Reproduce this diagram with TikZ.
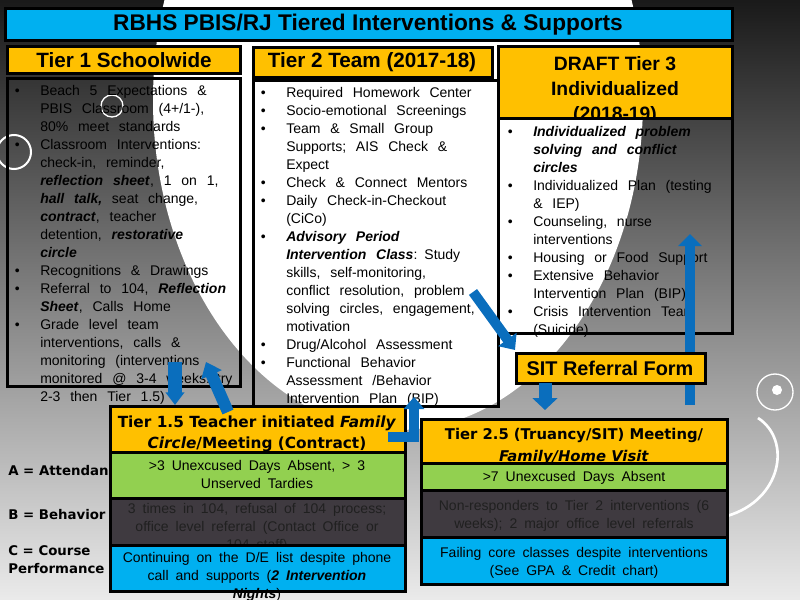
\documentclass[tikz,border=0pt]{standalone}
\usepackage{fontspec}
\setmainfont{Liberation Sans}
\newfontfamily\wideboldfont{DejaVu Sans Bold}
\usetikzlibrary{arrows.meta}

\definecolor{titlecyan}{HTML}{00B0F0}
\definecolor{tierorange}{HTML}{FFC000}
\definecolor{critgreen}{HTML}{92D050}
\definecolor{critdark}{HTML}{3F3A40}
\definecolor{critblue}{HTML}{00B0F0}
\definecolor{arrowblue}{HTML}{0A6EBD}
\definecolor{darktext}{HTML}{202020}

\newcommand{\bodyfont}{\fontsize{10.5}{13.5}\selectfont\spaceskip=0.5em plus 0.2em minus 0.05em\relax}
\newcommand{\bul}{\par\spaceskip=0.7em plus 0.1em minus 0.05em\relax\hangindent=22.5pt\hangafter=1\noindent\makebox[22.5pt][l]{\hspace{3.5pt}\textbullet}}
\newcommand{\bi}[1]{\textbf{\textit{#1}}}

\tikzset{
  box/.style={draw=black, line width=2.25pt},
  hdrtext/.style={font=\bfseries\fontsize{15.5}{18.75}\selectfont, align=center, inner sep=0pt},
  listtext/.style={anchor=north west, inner sep=0pt, text width=#1, align=left, font=\bodyfont},
  crithdr/.style={font=\wideboldfont\fontsize{11.4}{15.9}\selectfont, align=center, inner sep=0pt},
  crittext/.style={font=\bodyfont, align=center, inner sep=0pt},
  sidelabel/.style={font=\wideboldfont\fontsize{10}{13.5}\selectfont, align=left, anchor=west, inner sep=0pt},
  bluearrow/.style={draw=arrowblue, line width=#1, line join=miter},
}

\begin{document}
\begin{tikzpicture}[x=0.75pt, y=-0.75pt]
  \useasboundingbox (0,0) rectangle (800,600);
  \clip (0,0) rectangle (800,600);

  % Background swirl
  \fill[top color=black!90, middle color=black!55, bottom color=black!8] (0,0) rectangle (800,600);
  \fill[white] (398,100) ellipse [x radius=245, y radius=330];
  \draw[white, line width=1.5pt] (14,152) circle [radius=17];
  \draw[white, line width=1pt] (112,106) circle [radius=11];
  \draw[white, line width=2pt] (758,418) .. controls (792,440) and (782,500) .. (727,516);
  \draw[white, line width=1pt] (775,392) circle [radius=18];
  \fill[white] (777,390) circle [radius=5];

  % Title
  \filldraw[box, fill=titlecyan] (5,8) rectangle (732,40);
  \node[hdrtext, font=\bfseries\fontsize{17}{18}\selectfont] (title) at (368,25) {RBHS PBIS/RJ Tiered Interventions \& Supports};

  % Tier 1
  \filldraw[box, fill=tierorange] (7,46) rectangle (240,73);
  \node[hdrtext] (tier1head) at (124,60) {Tier 1 Schoolwide};
  \draw[box] (7,78) rectangle (240,386);
  \node[listtext=200pt] (tier1list) at (10,77) {%
    \bul Beach 5 Expectations \&\newline PBIS Classroom (4+/1-),\newline 80\% meet standards
    \bul Classroom Interventions:\newline check-in, reminder,\newline \bi{reflection sheet}, 1 on 1,\newline \bi{hall talk,} seat change,\newline \bi{contract}, teacher\newline detention, \bi{restorative}\newline \bi{circle}
    \bul Recognitions \& Drawings
    \bul Referral to 104, \bi{Reflection}\newline \bi{Sheet}, Calls Home
    \bul Grade level team\newline interventions, calls \&\newline monitoring (interventions\newline monitored @ 3-4 weeks: try\newline 2-3 then Tier 1.5)\par};

  % Tier 2
  \filldraw[box, fill=tierorange] (253,47) rectangle (492,77);
  \node[hdrtext] (tier2head) at (372,62) {Tier 2 Team (2017-18)};
  \draw[box] (253,80) rectangle (498,406);
  \node[listtext=200pt] (tier2list) at (256,79) {%
    \bul Required Homework Center
    \bul Socio-emotional Screenings
    \bul Team \& Small Group\newline Supports; AIS Check \&\newline Expect
    \bul Check \& Connect Mentors
    \bul Daily Check-in-Checkout\newline (CiCo)
    \bul \bi{Advisory Period}\newline \bi{Intervention Class}: Study\newline skills, self-monitoring,\newline conflict resolution, problem\newline solving circles, engagement,\newline motivation
    \bul Drug/Alcohol Assessment
    \bul Functional Behavior\newline Assessment /Behavior\newline Intervention Plan (BIP)\par};

  % Tier 3
  \filldraw[box, fill=tierorange] (498,46) rectangle (732,118);
  \begin{scope}
    \clip (498,46) rectangle (732,117);
    \node[hdrtext, font=\bfseries\fontsize{14.5}{18.75}\selectfont] (tier3head) at (615,90.5) {DRAFT Tier 3\\Individualized\\(2018-19)};
  \end{scope}
  \draw[box] (498,118) rectangle (732,333);
  \node[listtext=200pt] (tier3list) at (503,118) {%
    \bul \bi{Individualized problem}\newline \bi{solving and conflict}\newline \bi{circles}
    \bul Individualized Plan (testing\newline \& IEP)
    \bul Counseling, nurse\newline interventions
    \bul Housing or Food Support
    \bul Extensive Behavior\newline Intervention Plan (BIP)
    \bul Crisis Intervention Team\newline (Suicide)\par};

  % Criteria labels
  \node[sidelabel] (labelA) at (8,471) {A = Attendance};
  \node[sidelabel] (labelB) at (8,515) {B = Behavior};
  \node[sidelabel] (labelC) at (8,560) {C = Course\\Performance};

  % Tier 1.5
  \filldraw[box, fill=tierorange] (110,406) rectangle (405,452);
  \node[crithdr, font=\wideboldfont\fontsize{11.5}{15.75}\selectfont] (tier15head) at (257,433.5) {Tier 1.5 Teacher initiated \textit{Family}\\\textit{Circle}/Meeting (Contract)};
  \filldraw[box, fill=critgreen] (110,452) rectangle (405,498);
  \node[crittext] (tier15att) at (257,474) {>3 Unexcused Days Absent, > 3\\Unserved Tardies};
  \filldraw[box, fill=critdark] (110,498) rectangle (405,545);
  \begin{scope}
    \clip (110,498) rectangle (405,545);
    \node[crittext, text=darktext] (tier15beh) at (257,528) {3 times in 104, refusal of 104 process;\\office level referral (Contact Office or\\104 staff)};
  \end{scope}
  \filldraw[box, fill=critblue] (110,545) rectangle (405,591);
  \node[crittext] (tier15crs) at (257,577) {Continuing on the D/E list despite phone\\call and supports (\bi{2 Intervention}\\\bi{Nights})};

  % Tier 2.5
  \filldraw[box, fill=tierorange] (421,419) rectangle (727,463);
  \node[crithdr, font=\wideboldfont\fontsize{11.1}{16.5}\selectfont] (tier25head) at (574,446) {Tier 2.5 (Truancy/SIT) Meeting/\\\textit{Family/Home Visit}};
  \filldraw[box, fill=critgreen] (421,463) rectangle (727,490);
  \node[crittext] (tier25att) at (574,478) {>7 Unexcused Days Absent};
  \filldraw[box, fill=critdark] (421,490) rectangle (727,537);
  \node[crittext, text=darktext] (tier25beh) at (574,516) {Non-responders to Tier 2 interventions (6\\weeks); 2 major office level referrals};
  \filldraw[box, fill=critblue] (421,537) rectangle (727,584);
  \node[crittext] (tier25crs) at (574,563) {Failing core classes despite interventions\\(See GPA \& Credit chart)};

  % Arrow ends
  \coordinate (t1down-a) at (175,362);
  \coordinate (t1down-b) at (175,405);
  \coordinate (t15up-a) at (228,412);
  \coordinate (t15up-b) at (206,362);
  \coordinate (t15elbow-a) at (388,437);
  \coordinate (t15elbow-b) at (414,397);
  \coordinate (t2sit-a) at (473,292);
  \coordinate (t2sit-b) at (515,350);
  \coordinate (sitdown-a) at (545,383);
  \coordinate (sitdown-b) at (545,410);
  \coordinate (t3up-a) at (690,405);
  \coordinate (t3up-b) at (690,234);

  % Escalation arrows
  \draw[bluearrow=7.5pt, -{Triangle[width=0pt 2.3, length=0pt 1.2]}] (t3up-a) -- (t3up-b);

  % SIT referral
  \filldraw[box, fill=tierorange] (516,353) rectangle (705,383);
  \node[font=\bfseries\fontsize{14.9}{16}\selectfont, inner sep=0pt] (sitform) at (610,368) {SIT Referral Form};

  \draw[bluearrow=10.5pt, -{Triangle[width=0pt 1.3, length=0pt 0.9]}] (t1down-a) -- (t1down-b);
  \draw[bluearrow=9pt, -{Triangle[width=0pt 1.8, length=0pt 1.15]}] (t15up-a) -- (t15up-b);
  \draw[bluearrow=7.5pt, -{Triangle[width=0pt 2, length=0pt 1.2]}] (t15elbow-a) -| (t15elbow-b);
  \draw[bluearrow=7.5pt, -{Triangle[width=0pt 2.2, length=0pt 1.3]}] (t2sit-a) -- (t2sit-b);
  \draw[bluearrow=9.75pt, -{Triangle[width=0pt 1.9, length=0pt 0.92]}] (sitdown-a) -- (sitdown-b);
\end{tikzpicture}
\end{document}
